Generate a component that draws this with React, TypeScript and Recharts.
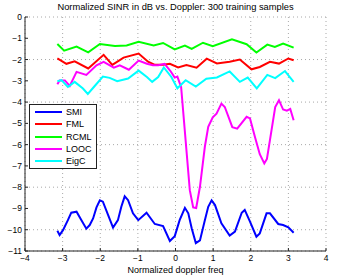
import React from 'react';
import { LineChart, Line, XAxis, YAxis, CartesianGrid, Legend } from 'recharts';

// values (normalized doppler freq, SINR in dB)
const smiFreq = [-3.14, -3.08, -2.99, -2.86, -2.77, -2.63, -2.5, -2.37, -2.28, -2.19, -2.1, -2.01, -1.93, -1.79, -1.66, -1.53, -1.44, -1.35, -1.26, -1.13, -0.99, -0.77, -0.55, -0.33, -0.15, -0.02, 0.11, 0.25, 0.34, 0.43, 0.54, 0.65, 0.78, 0.87, 0.96, 1.05, 1.22, 1.44, 1.58, 1.76, 1.84, 1.98, 2.15, 2.24, 2.42, 2.51, 2.73, 2.86, 3.0, 3.14];
const smiDb = [-10.05, -10.25, -10.02, -9.55, -9.2, -9.15, -9.55, -9.95, -9.78, -9.47, -8.95, -8.62, -8.68, -9.31, -9.9, -9.55, -8.92, -8.43, -8.61, -9.23, -9.55, -9.2, -9.73, -9.83, -10.53, -10.3, -9.55, -8.97, -9.23, -9.93, -10.63, -10.5, -9.55, -8.92, -8.62, -8.84, -9.7, -10.27, -10.09, -9.2, -9.07, -9.62, -10.33, -10.17, -9.23, -9.23, -9.73, -9.78, -9.89, -10.14];

const fmlFreq = [-3.14, -2.9, -2.68, -2.32, -1.91, -1.68, -1.38, -0.98, -0.73, -0.55, -0.33, -0.15, 0.07, 0.29, 0.56, 0.83, 1.1, 1.44, 1.71, 2.02, 2.24, 2.51, 2.75, 3.0, 3.14];
const fmlDb = [-1.95, -2.2, -2.08, -2.42, -1.78, -2.25, -1.91, -1.72, -2.1, -2.25, -2.24, -2.2, -2.37, -2.26, -2.38, -1.96, -2.18, -2.1, -2.0, -2.46, -2.35, -2.11, -2.19, -1.95, -2.03];

const rcmlFreq = [-3.14, -2.96, -2.63, -2.32, -2.01, -1.61, -1.3, -0.98, -0.58, -0.33, -0.02, 0.25, 0.43, 0.73, 0.99, 1.5, 1.89, 2.15, 2.44, 2.64, 2.86, 3.14];
const rcmlDb = [-1.27, -1.58, -1.39, -1.66, -1.27, -1.36, -1.34, -1.17, -1.34, -1.22, -1.52, -1.34, -1.5, -1.21, -1.37, -1.05, -1.28, -1.67, -1.3, -1.41, -1.25, -1.44];

const loocFreq = [-3.14, -3.08, -2.94, -2.81, -2.63, -2.37, -2.1, -1.91, -1.64, -1.48, -1.24, -0.98, -0.76, -0.6, -0.46, -0.29, -0.13, -0.02, 0.05, 0.15, 0.38, 0.47, 0.55, 0.65, 0.78, 0.87, 0.99, 1.09, 1.22, 1.31, 1.51, 1.64, 1.89, 1.98, 2.11, 2.24, 2.36, 2.43, 2.51, 2.65, 2.75, 2.86, 2.96, 3.05, 3.14];
const loocDb = [-3.16, -2.98, -2.98, -3.24, -2.58, -2.72, -2.27, -2.11, -2.38, -2.27, -2.48, -2.05, -2.2, -2.27, -2.27, -2.2, -2.55, -2.85, -2.8, -3.3, -8.14, -8.95, -8.98, -7.98, -6.1, -5.16, -4.72, -4.54, -4.07, -4.23, -5.18, -5.25, -4.69, -4.77, -5.63, -6.45, -6.88, -6.67, -5.79, -4.23, -3.91, -4.35, -4.4, -4.32, -4.85];

const eigcFreq = [-3.14, -3.03, -2.86, -2.68, -2.46, -2.33, -2.17, -1.93, -1.75, -1.55, -1.26, -0.98, -0.76, -0.62, -0.46, -0.31, -0.11, 0.05, 0.27, 0.54, 0.82, 1.1, 1.44, 1.71, 1.92, 2.16, 2.44, 2.65, 2.91, 3.14];
const eigcDb = [-3.02, -2.97, -3.29, -3.05, -3.36, -3.62, -3.29, -2.8, -2.86, -3.02, -2.89, -2.52, -2.82, -3.05, -2.82, -2.37, -2.82, -3.35, -2.97, -3.27, -2.9, -2.84, -2.56, -3.05, -2.85, -3.36, -2.72, -2.87, -2.54, -3.05];

const xTicks = [-4, -3, -2, -1, 0, 1, 2, 3, 4];
const yTicks = [-11, -10, -9, -8, -7, -6, -5, -4, -3, -2, -1, 0];

const toPoints = (xs: number[], ys: number[]) =>
  xs.map((freq, i) => ({ freq, db: ys[i] }));

const series = [
  { name: 'SMI', color: '#0000ff', data: toPoints(smiFreq, smiDb) },
  { name: 'FML', color: '#ff0000', data: toPoints(fmlFreq, fmlDb) },
  { name: 'RCML', color: '#00ff00', data: toPoints(rcmlFreq, rcmlDb) },
  { name: 'LOOC', color: '#ff00ff', data: toPoints(loocFreq, loocDb) },
  { name: 'EigC', color: '#00ffff', data: toPoints(eigcFreq, eigcDb) },
];

const fmt = (v: number) => String(v).replace('-', '\u2212');
const axisStroke = { stroke: '#222' };

const LegendBox = () => (
  <div
    style={{
      border: '1px solid #222',
      background: '#fff',
      width: 66,
      padding: '1px 0',
      fontSize: 9,
      color: '#000',
    }}
  >
    {series.map((s) => (
      <div key={s.name} style={{ display: 'flex', alignItems: 'center', height: 12.3 }}>
        <svg width={27} height={4} style={{ marginLeft: 5, marginRight: 4 }}>
          <line x1={0} y1={2} x2={27} y2={2} stroke={s.color} strokeWidth={2} />
        </svg>
        <span>{s.name}</span>
      </div>
    ))}
  </div>
);

const App = () => {
  return (
    <div
      style={{
        position: 'absolute',
        left: 0,
        top: 0,
        width: 347,
        height: 278,
        background: '#fff',
        fontFamily: '"Liberation Sans", Arial, sans-serif',
      }}
    >
      <div
        style={{
          position: 'absolute',
          left: 25,
          width: 301,
          top: 2,
          textAlign: 'center',
          fontSize: 9.3,
          color: '#000',
        }}
      >
        Normalized SINR in dB vs. Doppler: 300 training samples
      </div>
      <LineChart width={347} height={278} margin={{ top: 17, right: 21, bottom: 0, left: 0 }}>
        <CartesianGrid stroke="#a8a8a8" strokeDasharray="1 3" />
        <XAxis
          type="number"
          dataKey="freq"
          domain={[-4, 4]}
          ticks={xTicks}
          height={27}
          tickSize={-3}
          tickMargin={7}
          tickLine={axisStroke}
          tickFormatter={fmt}
          tick={{ fill: '#000', fontSize: 8.5 }}
          axisLine={axisStroke}
          allowDataOverflow
          label={{ value: 'Normalized doppler freq', position: 'insideBottom', offset: 5, fill: '#000', fontSize: 9 }}
        />
        <YAxis
          type="number"
          domain={[-11, 0]}
          ticks={yTicks}
          width={25}
          tickSize={-3}
          tickMargin={6}
          tickLine={axisStroke}
          tickFormatter={fmt}
          tick={{ fill: '#000', fontSize: 8.5 }}
          axisLine={axisStroke}
          allowDataOverflow
        />
        <XAxis
          xAxisId="top"
          orientation="top"
          type="number"
          domain={[-4, 4]}
          ticks={xTicks}
          height={0}
          tickSize={-3}
          tick={false}
          tickLine={axisStroke}
          axisLine={axisStroke}
        />
        <YAxis
          yAxisId="right"
          orientation="right"
          type="number"
          domain={[-11, 0]}
          ticks={yTicks}
          width={0}
          tickSize={-3}
          tick={false}
          tickLine={axisStroke}
          axisLine={axisStroke}
        />
        {series.map((s) => (
          <Line
            key={s.name}
            data={s.data}
            dataKey="db"
            name={s.name}
            stroke={s.color}
            strokeWidth={2}
            dot={false}
            type="linear"
            isAnimationActive={false}
          />
        ))}
        <Legend
          layout="vertical"
          align="center"
          verticalAlign="middle"
          content={<LegendBox />}
          wrapperStyle={{ left: 29, top: 104, width: 68 }}
        />
      </LineChart>
    </div>
  );
};

export default App;
